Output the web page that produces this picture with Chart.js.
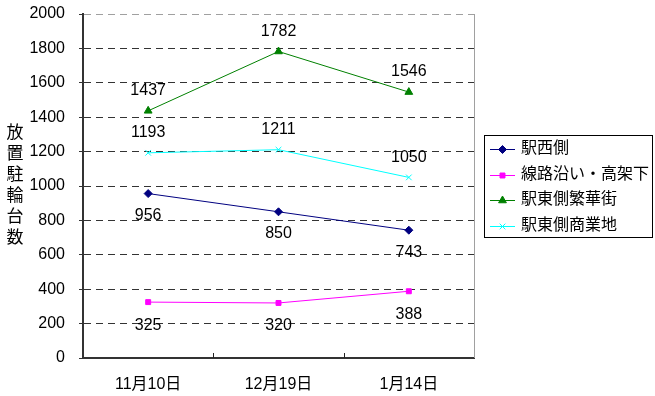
<!DOCTYPE html>
<html>
<head>
<meta charset="utf-8">
<script src="https://cdn.jsdelivr.net/npm/chart.js@4.4.1/dist/chart.umd.min.js"></script>
<style>
  html, body { margin: 0; padding: 0; background: #fff; }
  #wrap { width: 655px; height: 396px; }
</style>
</head>
<body>
<div id="wrap"><canvas id="c" width="655" height="396"></canvas></div>
<script>
// Survey dates
const categories = ['11月10日', '12月19日', '1月14日'];

// Parked bicycles per area
const ekiNishi      = [956, 850, 743];     // 駅西側
const senroKoka     = [325, 320, 388];     // 線路沿い・高架下
const higashiHanka  = [1437, 1782, 1546];  // 駅東側繁華街
const higashiShogyo = [1193, 1211, 1050];  // 駅東側商業地

const seriesNames = ['駅西側', '線路沿い・高架下', '駅東側繁華街', '駅東側商業地'];

// Value axis
const yMin = 0;
const yMax = 2000;
const yStep = 200;
const yTitle = '放置駐輪台数';

const FONT = '"Liberation Sans", "Noto Sans CJK JP", sans-serif';

// value labels next to each point
const valueLabels = {
  id: 'valueLabels',
  afterDatasetsDraw(chart) {
    const ctx = chart.ctx;
    ctx.save();
    ctx.font = '16px ' + FONT;
    ctx.fillStyle = '#000';
    ctx.textAlign = 'center';
    ctx.textBaseline = 'middle';
    chart.data.datasets.forEach((ds, i) => {
      const meta = chart.getDatasetMeta(i);
      meta.data.forEach((pt, j) => {
        ctx.fillText(String(ds.data[j]), pt.x, pt.y + ds.labelOffset);
      });
    });
    ctx.restore();
  }
};

// frame, inner category ticks, vertical axis title and boxed legend
const decorations = {
  id: 'decorations',
  afterDraw(chart) {
    const ctx = chart.ctx;
    const area = chart.chartArea;
    const xs = chart.scales.x;
    ctx.save();

    // right edge of the plot frame
    ctx.strokeStyle = '#a0a0a0';
    ctx.lineWidth = 1;
    ctx.beginPath();
    ctx.moveTo(Math.round(area.right) + 0.5, area.top);
    ctx.lineTo(Math.round(area.right) + 0.5, area.bottom);
    ctx.stroke();

    // small inward ticks between categories
    ctx.strokeStyle = '#222';
    ctx.lineWidth = 1;
    for (let i = 0; i < categories.length - 1; i++) {
      const x = Math.round((xs.getPixelForValue(i) + xs.getPixelForValue(i + 1)) / 2) + 0.5;
      ctx.beginPath();
      ctx.moveTo(x, area.bottom);
      ctx.lineTo(x, area.bottom - 5);
      ctx.stroke();
    }

    // vertical axis title, one character per line
    ctx.font = '17px ' + FONT;
    ctx.fillStyle = '#000';
    ctx.textAlign = 'center';
    ctx.textBaseline = 'middle';
    Array.from(yTitle).forEach((ch, i) => {
      ctx.fillText(ch, 15, 133 + i * 21);
    });

    // legend box
    const lx = 484, ly = 135, lw = 168, lh = 102;
    ctx.strokeStyle = '#000';
    ctx.lineWidth = 1;
    ctx.strokeRect(lx + 0.5, ly + 0.5, lw, lh);
    const rowY = [149, 174.5, 200, 225.5];
    chart.data.datasets.forEach((ds, i) => {
      const y = rowY[i];
      ctx.strokeStyle = ds.borderColor;
      ctx.lineWidth = 1;
      ctx.beginPath();
      ctx.moveTo(490, Math.round(y) + 0.5);
      ctx.lineTo(515, Math.round(y) + 0.5);
      ctx.stroke();
      ctx.fillStyle = ds.backgroundColor;
      ctx.strokeStyle = ds.borderColor;
      Chart.helpers.drawPoint(ctx, {
        pointStyle: ds.pointStyle,
        radius: ds.pointRadius,
        rotation: 0,
        borderWidth: 1
      }, 502.5, Math.round(y) + 0.5);
      ctx.fillStyle = '#000';
      ctx.font = '16px ' + FONT;
      ctx.textAlign = 'left';
      ctx.textBaseline = 'middle';
      ctx.fillText(ds.label, 521, y);
    });
    ctx.restore();
  }
};

function series(label, data, color, style, radius, labelOffset) {
  return {
    label: label,
    data: data,
    borderColor: color,
    backgroundColor: color,
    borderWidth: 1,
    pointStyle: style,
    pointRadius: radius,
    pointHoverRadius: radius,
    pointBorderWidth: 1,
    pointBorderColor: color,
    pointBackgroundColor: color,
    tension: 0,
    fill: false,
    labelOffset: labelOffset
  };
}

new Chart(document.getElementById('c'), {
  type: 'line',
  data: {
    labels: categories,
    datasets: [
      series(seriesNames[0], ekiNishi, '#000080', 'rectRot', 4, 22),
      series(seriesNames[1], senroKoka, '#ff00ff', 'rect', 3.5, 23),
      series(seriesNames[2], higashiHanka, '#008000', 'triangle', 4.5, -20),
      series(seriesNames[3], higashiShogyo, '#00ffff', 'crossRot', 4, -20)
    ]
  },
  options: {
    responsive: false,
    animation: false,
    devicePixelRatio: 1,
    layout: { padding: { left: 0, top: 14, right: 181, bottom: 0 } },
    plugins: {
      legend: { display: false },
      tooltip: { enabled: false },
      title: { display: false }
    },
    scales: {
      x: {
        type: 'category',
        offset: true,
        afterFit(s) { s.height = 38; s.paddingLeft = 0; s.paddingRight = 0; },
        grid: { display: true, drawOnChartArea: false, drawTicks: false, offset: true },
        border: { display: true, color: '#333', width: 2 },
        ticks: { color: '#000', font: { family: FONT, size: 16 }, padding: 17, maxRotation: 0 }
      },
      y: {
        min: yMin,
        max: yMax,
        afterFit(s) { s.width = 83; s.paddingTop = 8; s.paddingBottom = 0; },
        grid: {
          color: (c) => (c.tick && c.tick.value === yMax ? '#a0a0a0' : '#333'),
          lineWidth: 1,
          drawTicks: true,
          tickLength: 4,
          tickColor: '#333'
        },
        border: { display: true, color: '#333', width: 2, dash: [7, 5] },
        ticks: {
          stepSize: yStep,
          color: '#000',
          font: { family: FONT, size: 16 },
          padding: 14,
          callback: (v) => String(v)
        }
      }
    }
  },
  plugins: [valueLabels, decorations]
});
</script>
</body>
</html>
